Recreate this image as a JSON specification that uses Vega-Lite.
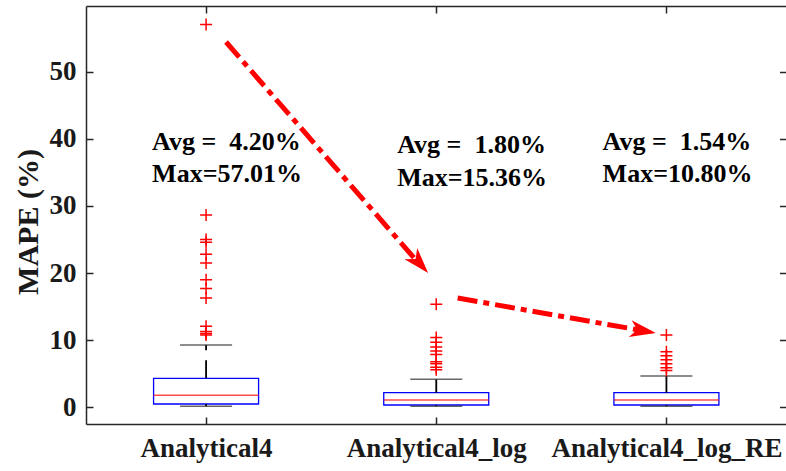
{
  "$schema": "https://vega.github.io/schema/vega-lite/v6.json",
  "width": 700.5,
  "height": 418,
  "autosize": {"type": "none"},
  "padding": {"left": 86, "top": 6, "right": 0, "bottom": 47},
  "background": "white",
  "config": {
    "view": {"stroke": null},
    "font": "Liberation Serif",
    "axis": {
      "grid": false,
      "domainColor": "#262626",
      "domainWidth": 1.5,
      "tickColor": "#262626",
      "tickWidth": 1.5,
      "tickSize": -7,
      "labelFont": "Liberation Serif",
      "labelFontWeight": "bold",
      "labelFontSize": 27,
      "labelLimit": 400,
      "labelOverlap": false,
      "labelColor": "#1a1a1a",
      "titleFont": "Liberation Serif",
      "titleFontWeight": "bold",
      "titleColor": "#1a1a1a"
    }
  },
  "datasets": {
    "boxes": [
      {"method": "Analytical4", "pos": 1, "lower": 0.18, "q1": 0.52, "median": 1.81, "q3": 4.34, "upper": 9.3},
      {"method": "Analytical4_log", "pos": 2, "lower": 0.18, "q1": 0.37, "median": 1.12, "q3": 2.2, "upper": 4.19},
      {"method": "Analytical4_log_RE", "pos": 3, "lower": 0.18, "q1": 0.37, "median": 1.12, "q3": 2.2, "upper": 4.69}
    ],
    "outliers": [
      {"pos": 1, "value": 57.01}, {"pos": 1, "value": 28.65}, {"pos": 1, "value": 25.0},
      {"pos": 1, "value": 24.6}, {"pos": 1, "value": 22.8}, {"pos": 1, "value": 21.5},
      {"pos": 1, "value": 19.0}, {"pos": 1, "value": 17.7}, {"pos": 1, "value": 16.3},
      {"pos": 1, "value": 12.1}, {"pos": 1, "value": 11.3}, {"pos": 1, "value": 11.0},
      {"pos": 1, "value": 10.8},
      {"pos": 2, "value": 15.36}, {"pos": 2, "value": 10.4}, {"pos": 2, "value": 9.7},
      {"pos": 2, "value": 9.0}, {"pos": 2, "value": 8.4}, {"pos": 2, "value": 7.9},
      {"pos": 2, "value": 6.8}, {"pos": 2, "value": 6.5}, {"pos": 2, "value": 6.0},
      {"pos": 2, "value": 5.6},
      {"pos": 3, "value": 10.8}, {"pos": 3, "value": 8.3}, {"pos": 3, "value": 7.7},
      {"pos": 3, "value": 7.1}, {"pos": 3, "value": 6.5}, {"pos": 3, "value": 5.9},
      {"pos": 3, "value": 5.5}
    ],
    "notes": [
      {"x": 0.7655, "y": 38.32, "text": "Avg = \u00a04.20%"},
      {"x": 0.7655, "y": 33.56, "text": "Max=57.01%"},
      {"x": 1.8306, "y": 37.8, "text": "Avg = \u00a01.80%"},
      {"x": 1.8306, "y": 33.0, "text": "Max=15.36%"},
      {"x": 2.7227, "y": 38.32, "text": "Avg = \u00a01.54%"},
      {"x": 2.7227, "y": 33.56, "text": "Max=10.80%"}
    ],
    "arrows": [
      {"arrow": "a", "step": 0, "x": 1.0867, "y": 54.39},
      {"arrow": "a", "step": 1, "x": 1.9107, "y": 21.98},
      {"arrow": "b", "step": 0, "x": 2.0931, "y": 16.29},
      {"arrow": "b", "step": 1, "x": 2.8739, "y": 11.57}
    ],
    "heads": [
      {"arrow": "a", "x": 1.9647, "y": 20.01},
      {"arrow": "b", "x": 2.954, "y": 11.08}
    ]
  },
  "resolve": {"axis": {"x": "independent", "y": "independent"}},
  "layer": [
    {
      "data": {"name": "boxes"},
      "mark": {"type": "bar", "size": 105, "fill": "white", "stroke": "#0000ff", "strokeWidth": 1.3},
      "encoding": {
        "x": {
          "field": "pos", "type": "quantitative",
          "scale": {"domain": [0.5, 3.5], "nice": false, "zero": false},
          "axis": {
            "orient": "bottom", "title": null, "values": [1, 2, 3],
            "labelPadding": 18, "labelBaseline": "top",
            "labelExpr": "datum.value == 1 ? 'Analytical4' : datum.value == 2 ? 'Analytical4_log' : 'Analytical4_log_RE'"
          }
        },
        "y": {
          "field": "q1", "type": "quantitative",
          "scale": {"domain": [-2.46, 59.75], "nice": false, "zero": false},
          "axis": {
            "orient": "left", "values": [0, 10, 20, 30, 40, 50],
            "labelPadding": 17, "title": "MAPE (%)", "titleFontSize": 30,
            "titleX": -58, "titleY": 215.5, "titleAngle": -90,
            "titleAlign": "center", "titleBaseline": "middle"
          }
        },
        "y2": {"field": "q3"}
      }
    },
    {
      "data": {"name": "boxes"},
      "mark": {"type": "tick", "orient": "horizontal", "size": 105, "thickness": 1.4, "color": "#ff0000"},
      "encoding": {
        "x": {
          "field": "pos", "type": "quantitative",
          "axis": {"orient": "top", "title": null, "values": [1, 2, 3], "labels": false}
        },
        "y": {
          "field": "median", "type": "quantitative",
          "axis": {"orient": "right", "title": null, "values": [0, 10, 20, 30, 40, 50], "labels": false, "domain": false}
        }
      }
    },
    {
      "data": {"name": "boxes"},
      "mark": {"type": "rule", "color": "#000000", "strokeWidth": 1.8, "strokeDash": [18, 10]},
      "encoding": {
        "x": {"field": "pos", "type": "quantitative", "axis": null},
        "y": {"field": "q3", "type": "quantitative", "axis": null},
        "y2": {"field": "upper"}
      }
    },
    {
      "data": {"name": "boxes"},
      "mark": {"type": "rule", "color": "#000000", "strokeWidth": 1.8, "strokeDash": [18, 10]},
      "encoding": {
        "x": {"field": "pos", "type": "quantitative", "axis": null},
        "y": {"field": "q1", "type": "quantitative", "axis": null},
        "y2": {"field": "lower"}
      }
    },
    {
      "data": {"name": "boxes"},
      "mark": {"type": "tick", "orient": "horizontal", "size": 52, "thickness": 1.5, "color": "#262626"},
      "encoding": {
        "x": {"field": "pos", "type": "quantitative", "axis": null},
        "y": {"field": "upper", "type": "quantitative", "axis": null}
      }
    },
    {
      "data": {"name": "boxes"},
      "mark": {"type": "tick", "orient": "horizontal", "size": 52, "thickness": 1.5, "color": "#262626"},
      "encoding": {
        "x": {"field": "pos", "type": "quantitative", "axis": null},
        "y": {"field": "lower", "type": "quantitative", "axis": null}
      }
    },
    {
      "data": {"name": "outliers"},
      "mark": {"type": "point", "shape": "M-1,0L1,0M0,-1L0,1", "filled": false, "stroke": "#ff0000", "strokeWidth": 1.5, "size": 144, "opacity": 1},
      "encoding": {
        "x": {"field": "pos", "type": "quantitative", "axis": null},
        "y": {"field": "value", "type": "quantitative", "axis": null}
      }
    },
    {
      "data": {"name": "notes"},
      "mark": {"type": "text", "align": "left", "baseline": "alphabetic", "font": "Liberation Serif", "fontWeight": "bold", "fontSize": 26, "color": "#000000"},
      "encoding": {
        "x": {"field": "x", "type": "quantitative", "axis": null},
        "y": {"field": "y", "type": "quantitative", "axis": null},
        "text": {"field": "text"}
      }
    },
    {
      "data": {"name": "arrows"},
      "mark": {"type": "line", "color": "#ff0000", "strokeWidth": 5, "strokeDash": [20, 6, 6, 6], "strokeCap": "butt"},
      "encoding": {
        "x": {"field": "x", "type": "quantitative", "axis": null},
        "y": {"field": "y", "type": "quantitative", "axis": null},
        "detail": {"field": "arrow"},
        "order": {"field": "step"}
      }
    },
    {
      "data": {"name": "heads"},
      "transform": [{"filter": "datum.arrow == 'a'"}],
      "mark": {"type": "point", "shape": "M0,0L-2,-0.65L-1.45,0L-2,0.65Z", "filled": true, "color": "#ff0000", "size": 676, "angle": 48.4, "opacity": 1},
      "encoding": {
        "x": {"field": "x", "type": "quantitative", "axis": null},
        "y": {"field": "y", "type": "quantitative", "axis": null}
      }
    },
    {
      "data": {"name": "heads"},
      "transform": [{"filter": "datum.arrow == 'b'"}],
      "mark": {"type": "point", "shape": "M0,0L-2,-0.65L-1.45,0L-2,0.65Z", "filled": true, "color": "#ff0000", "size": 676, "angle": 9.9, "opacity": 1},
      "encoding": {
        "x": {"field": "x", "type": "quantitative", "axis": null},
        "y": {"field": "y", "type": "quantitative", "axis": null}
      }
    }
  ]
}
